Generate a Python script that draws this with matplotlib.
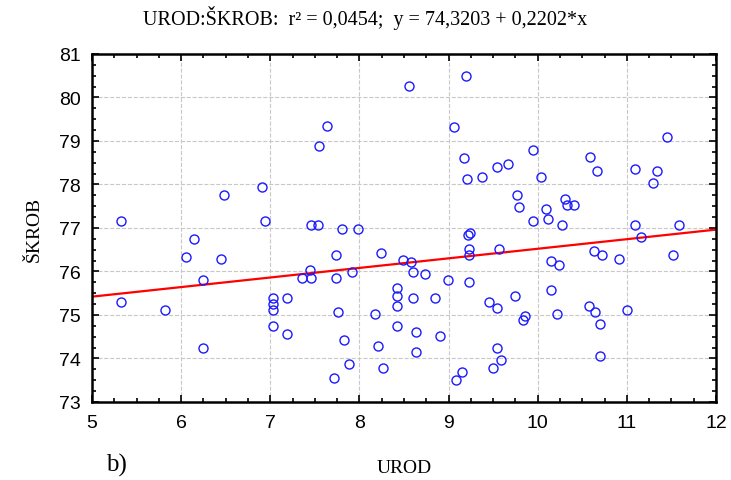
import numpy as np
import matplotlib.pyplot as plt
from matplotlib.ticker import MultipleLocator

# UROD (x) and SKROB (y) values
urod = [5.32, 5.32, 5.82, 6.05, 6.14, 6.25, 6.25, 6.45, 6.48, 6.91, 6.94,
        7.03, 7.03, 7.03, 7.03, 7.19, 7.19, 7.35, 7.44, 7.46, 7.46, 7.53,
        7.55, 7.64, 7.71, 7.74, 7.74, 7.76, 7.80, 7.83, 7.88, 7.92, 7.98,
        8.17, 8.21, 8.24, 8.26, 8.42, 8.42, 8.42, 8.42, 8.49, 8.56, 8.58,
        8.60, 8.60, 8.63, 8.63, 8.74, 8.85, 8.90, 8.99, 9.06, 9.08, 9.15,
        9.17, 9.20, 9.21, 9.22, 9.24, 9.23, 9.23, 9.23, 9.38, 9.45, 9.50,
        9.54, 9.54, 9.54, 9.56, 9.59, 9.67, 9.75, 9.77, 9.79, 9.84, 9.86,
        9.95, 9.95, 10.04, 10.09, 10.11, 10.15, 10.15, 10.22, 10.24, 10.27,
        10.31, 10.33, 10.41, 10.57, 10.59, 10.63, 10.64, 10.66, 10.70, 10.70,
        10.72, 10.91, 11.00, 11.09, 11.09, 11.16, 11.29, 11.34, 11.45, 11.52,
        11.59]
skrob = [77.16, 75.30, 75.11, 76.34, 76.75, 75.80, 74.25, 76.29, 77.76, 77.94, 77.16,
         75.38, 75.25, 75.11, 74.75, 75.38, 74.56, 75.84, 76.03, 77.07, 75.84, 77.07,
         78.89, 79.35, 73.56, 76.39, 75.84, 75.06, 76.98, 74.43, 73.88, 75.98, 76.98,
         75.02, 74.29, 76.43, 73.79, 75.61, 75.43, 75.20, 74.75, 76.26, 80.26, 76.21,
         75.98, 75.38, 74.61, 74.16, 75.94, 75.38, 74.52, 75.80, 79.31, 73.51, 73.70,
         78.62, 80.49, 78.12, 76.84, 76.89, 76.52, 76.39, 75.75, 78.17, 75.29, 73.79,
         78.40, 75.15, 74.24, 76.52, 73.97, 78.48, 75.43, 77.76, 77.48, 74.88, 74.97,
         78.80, 77.16, 78.17, 77.43, 77.21, 76.25, 75.57, 75.02, 76.16, 77.08,
         77.67, 77.53, 77.53, 75.20, 78.63, 76.48, 75.06, 78.30, 74.79, 74.06,
         76.39, 76.29, 75.11, 78.35, 77.08, 76.80, 78.03, 78.30, 79.08, 76.39,
         77.08]

intercept = 74.3203
slope = 0.2202
r2 = 0.0454

fig = plt.figure(figsize=(7.31, 4.81), dpi=100)
ax = fig.add_axes([0.1259, 0.1622, 0.8536, 0.7235])

ax.plot(urod, skrob, 'o', markersize=6.5, markerfacecolor='none',
        markeredgecolor='#1a1aff', markeredgewidth=1.0, zorder=3)

xl = np.array([5, 12])
ax.plot(xl, intercept + slope * xl, color='red', lw=1.6, zorder=2)

ax.set_xlim(5, 12)
ax.set_ylim(73, 81)
ax.xaxis.set_major_locator(MultipleLocator(1))
ax.xaxis.set_minor_locator(MultipleLocator(0.25))
ax.yaxis.set_major_locator(MultipleLocator(1))
ax.yaxis.set_minor_locator(MultipleLocator(0.25))
ax.tick_params(which='both', direction='in', top=True, right=True,
               labelsize=14, width=1.2)
ax.tick_params(which='major', length=5)
ax.tick_params(axis='x', which='major', pad=9)
ax.tick_params(axis='y', which='major', pad=8)
ax.tick_params(which='minor', length=3)
for lab in ax.get_xticklabels() + ax.get_yticklabels():
    lab.set_family('Liberation Sans')
for s in ax.spines.values():
    s.set_linewidth(1.8)
ax.grid(True, which='major', color='#c8c8c8', linestyle='--', linewidth=0.8)

title = ('UROD:ŠKROB:  r² = %s;  y = %s + %s*x'
         % (str(r2).replace('.', ','), str(intercept).replace('.', ','),
            str(slope).replace('.', ',')))
fig.text(0.5, 0.962, title, family='Liberation Serif', fontsize=14.5,
         ha='center', va='center')
ax.set_xlabel('UROD', family='Liberation Serif', fontsize=14, labelpad=20)
ax.set_ylabel('ŠKROB', family='Liberation Serif', fontsize=14, labelpad=12)
fig.text(0.145, 0.033, 'b)', family='Liberation Serif', fontsize=18,
         va='center')

fig.savefig('out.png', dpi=100)
